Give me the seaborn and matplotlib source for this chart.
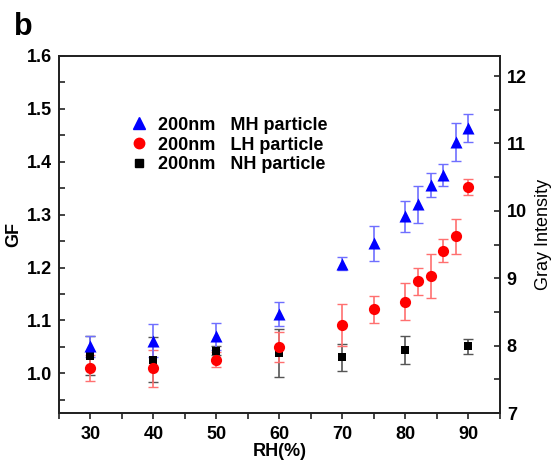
"""GF vs RH for 200nm particles, with a Gray Intensity twin axis."""

import matplotlib

matplotlib.use("Agg")
import matplotlib.pyplot as plt  # noqa: E402
import pandas as pd  # noqa: E402
import seaborn as sns  # noqa: E402
from matplotlib.lines import Line2D  # noqa: E402
from matplotlib.ticker import MultipleLocator  # noqa: E402

# MH particle
mh_rh = [30, 40, 50, 60, 70, 75, 80, 82, 84, 86, 88, 90]
mh_gf = [1.051, 1.062, 1.070, 1.112, 1.207, 1.246, 1.297, 1.320, 1.356, 1.375, 1.438, 1.464]
mh_err = [0.020, 0.032, 0.026, 0.022, 0.012, 0.033, 0.029, 0.035, 0.023, 0.021, 0.036, 0.026]

# LH particle
lh_rh = [30, 40, 50, 60, 70, 75, 80, 82, 84, 86, 88, 90]
lh_gf = [1.010, 1.010, 1.026, 1.050, 1.091, 1.121, 1.135, 1.174, 1.184, 1.232, 1.259, 1.353]
lh_err = [0.025, 0.035, 0.014, 0.028, 0.040, 0.026, 0.035, 0.026, 0.042, 0.021, 0.033, 0.015]

# NH particle
nh_rh = [30, 40, 50, 60, 70, 80, 90]
nh_gf = [1.033, 1.026, 1.043, 1.039, 1.030, 1.044, 1.051]
nh_err = [0.037, 0.042, 0.008, 0.045, 0.026, 0.026, 0.014]

LABELS = ["200nm   MH particle", "200nm   LH particle", "200nm   NH particle"]

sns.set_theme(style="ticks")
plt.rcParams["font.family"] = ["Liberation Sans", "DejaVu Sans"]
plt.rcParams["font.weight"] = "bold"
plt.rcParams["text.color"] = "black"
plt.rcParams["axes.labelcolor"] = "black"
plt.rcParams["xtick.color"] = "#222222"
plt.rcParams["ytick.color"] = "#222222"
plt.rcParams["xtick.labelcolor"] = "black"
plt.rcParams["ytick.labelcolor"] = "black"

FS = 13

fig = plt.figure(figsize=(5.56, 4.62), dpi=100)
ax = fig.add_axes([0.106, 0.106, 0.793, 0.773])

series = [
    (nh_rh, nh_gf, nh_err, "black", "#555555", "s", 40),
    (lh_rh, lh_gf, lh_err, "#ff0000", "#ff7070", "o", 65),
    (mh_rh, mh_gf, mh_err, "#0000ff", "#6f6fff", "^", 75),
]
for rh, gf, err, color, ecolor, marker, size in series:
    ax.errorbar(rh, gf, yerr=err, fmt="none", ecolor=ecolor, elinewidth=1.2,
                capsize=3.5, capthick=1.0, zorder=2)
    df = pd.DataFrame({"RH": rh, "GF": gf})
    sns.scatterplot(data=df, x="RH", y="GF", ax=ax, color=color, marker=marker,
                    s=size, edgecolor=color, linewidth=0, zorder=3, legend=False)

ax.set_xlim(25, 95)
ax.set_ylim(0.925, 1.6)
ax.xaxis.set_major_locator(MultipleLocator(10))
ax.xaxis.set_minor_locator(MultipleLocator(5))
ax.yaxis.set_major_locator(MultipleLocator(0.1))
ax.yaxis.set_minor_locator(MultipleLocator(0.05))
ax.tick_params(axis="x", which="both", direction="out", length=4, width=1.2,
               labelsize=FS, pad=5)
ax.tick_params(axis="y", which="both", direction="in", length=4, width=1.2,
               labelsize=FS, pad=5)
ax.set_xlabel("RH(%)", fontsize=FS, fontweight="bold", labelpad=0)
ax.set_ylabel("GF", fontsize=FS, fontweight="bold", labelpad=3)
for sp in ax.spines.values():
    sp.set_linewidth(1.3)
    sp.set_color("#222222")

ax2 = ax.twinx()
ax2.set_ylim(7, 12.3)
ax2.yaxis.set_major_locator(MultipleLocator(1))
ax2.yaxis.set_minor_locator(MultipleLocator(0.5))
ax2.tick_params(axis="y", which="both", direction="in", length=4, width=1.2,
                labelsize=FS, pad=5)
ax2.set_ylabel("Gray Intensity", fontsize=FS, fontweight="normal", labelpad=6)
for sp in ax2.spines.values():
    sp.set_linewidth(1.3)
    sp.set_color("#222222")

handles = [
    Line2D([], [], linestyle="none", marker="^", color="#0000ff", markersize=8),
    Line2D([], [], linestyle="none", marker="o", color="#ff0000", markersize=7.5),
    Line2D([], [], linestyle="none", marker="s", color="black", markersize=5.5),
]
ax.legend(handles, LABELS, loc="upper left", bbox_to_anchor=(0.12, 0.875),
          frameon=False, prop={"size": FS, "weight": "bold"},
          handletextpad=0.45, labelspacing=0.15, handlelength=1.2)

fig.text(0.025, 0.925, "b", fontsize=22, fontweight="bold")

fig.savefig("out.png", dpi=100)
plt.close(fig)
